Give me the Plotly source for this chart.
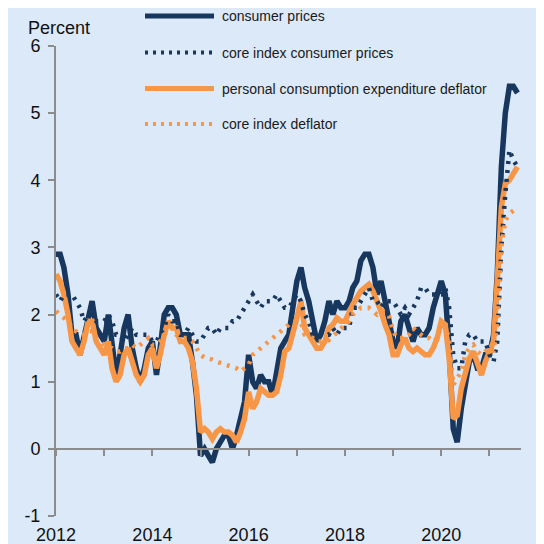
import plotly.graph_objects as go
import pandas as pd

# monthly, Jan 2012 - Aug 2021, percent change on a year earlier
months = pd.date_range("2012-01-01", "2021-08-01", freq="MS")

cpi = [
    2.9, 2.9, 2.7, 2.3, 1.7, 1.7, 1.4, 1.7, 2.0, 2.2, 1.8, 1.7,
    1.6, 2.0, 1.5, 1.1, 1.4, 1.8, 2.0, 1.5, 1.2, 1.0, 1.2, 1.5,
    1.6, 1.1, 1.5, 2.0, 2.1, 2.1, 2.0, 1.7, 1.7, 1.7, 1.3, 0.8,
    -0.1, 0.0, -0.1, -0.2, 0.0, 0.1, 0.2, 0.2, 0.0, 0.2, 0.5, 0.7,
    1.4, 1.0, 0.9, 1.1, 1.0, 1.0, 0.8, 1.1, 1.5, 1.6, 1.7, 2.1,
    2.5, 2.7, 2.4, 2.2, 1.9, 1.6, 1.7, 1.9, 2.2, 2.0, 2.2, 2.1,
    2.1, 2.2, 2.4, 2.5, 2.8, 2.9, 2.9, 2.7, 2.3, 2.5, 2.2, 1.9,
    1.6, 1.5, 1.9, 2.0, 1.8, 1.6, 1.8, 1.7, 1.7, 1.8, 2.1, 2.3,
    2.5, 2.3, 1.5, 0.3, 0.1, 0.6, 1.0, 1.3, 1.4, 1.2, 1.2, 1.4,
    1.4, 1.7, 2.6, 4.2, 5.0, 5.4, 5.4, 5.3,
]

core_cpi = [
    2.3, 2.2, 2.3, 2.3, 2.3, 2.2, 2.1, 1.9, 2.0, 2.0, 1.9, 1.9,
    1.9, 2.0, 1.9, 1.7, 1.7, 1.6, 1.7, 1.8, 1.7, 1.7, 1.7, 1.7,
    1.6, 1.6, 1.7, 1.8, 2.0, 1.9, 1.9, 1.7, 1.7, 1.8, 1.7, 1.6,
    1.6, 1.7, 1.8, 1.8, 1.7, 1.8, 1.8, 1.8, 1.9, 1.9, 2.0, 2.1,
    2.2, 2.3, 2.2, 2.1, 2.2, 2.2, 2.2, 2.3, 2.2, 2.1, 2.1, 2.2,
    2.3, 2.2, 2.0, 1.9, 1.7, 1.7, 1.7, 1.7, 1.7, 1.8, 1.7, 1.8,
    1.8, 1.8, 2.1, 2.1, 2.2, 2.3, 2.4, 2.2, 2.2, 2.1, 2.2, 2.2,
    2.2, 2.1, 2.0, 2.1, 2.0, 2.1, 2.2, 2.4, 2.4, 2.3, 2.3, 2.3,
    2.3, 2.4, 2.1, 1.4, 1.2, 1.2, 1.6, 1.7, 1.7, 1.6, 1.6, 1.6,
    1.4, 1.3, 1.6, 3.0, 3.8, 4.45, 4.3, 4.2,
]

pce = [
    2.6, 2.5, 2.3, 2.0, 1.6, 1.5, 1.4, 1.6, 1.9, 1.9, 1.6, 1.5,
    1.4, 1.6, 1.2, 1.0, 1.1, 1.4, 1.5, 1.3, 1.1, 1.0, 1.1, 1.4,
    1.5, 1.2, 1.4, 1.7, 1.9, 1.8, 1.8, 1.6, 1.6, 1.5, 1.3, 0.9,
    0.25, 0.3, 0.25, 0.15, 0.25, 0.3, 0.25, 0.25, 0.2, 0.1, 0.25, 0.45,
    0.85, 0.6, 0.7, 0.9, 0.85, 0.8, 0.8, 0.85, 1.1, 1.45, 1.5, 1.7,
    1.95, 2.2, 1.8, 1.7, 1.6, 1.5, 1.5, 1.6, 1.8, 1.85, 1.95, 1.9,
    1.9, 2.05, 2.15, 2.25, 2.35, 2.4, 2.45, 2.35, 2.2, 2.05, 1.85, 1.7,
    1.4, 1.4, 1.55, 1.65, 1.5, 1.45, 1.5, 1.45, 1.4, 1.4, 1.5, 1.65,
    1.9, 1.85, 1.35, 0.45, 0.5, 0.9, 1.1, 1.35, 1.45, 1.25, 1.1, 1.3,
    1.45, 1.6, 2.5, 3.6, 3.95, 4.0, 4.1, 4.2,
]

core_pce = [
    2.05, 2.0, 1.95, 1.9, 1.8, 1.75, 1.7, 1.7, 1.75, 1.75, 1.65, 1.6,
    1.55, 1.5, 1.5, 1.45, 1.45, 1.5, 1.5, 1.55, 1.5, 1.55, 1.6, 1.65,
    1.55, 1.55, 1.6, 1.7, 1.75, 1.8, 1.7, 1.65, 1.65, 1.65, 1.6, 1.5,
    1.4, 1.36, 1.35, 1.33, 1.3, 1.28, 1.27, 1.25, 1.23, 1.2, 1.15, 1.2,
    1.25, 1.4, 1.45, 1.5, 1.55, 1.6, 1.65, 1.7, 1.75, 1.8, 1.85, 1.9,
    1.9, 1.88, 1.7, 1.68, 1.65, 1.6, 1.6, 1.6, 1.62, 1.68, 1.72, 1.8,
    1.85, 1.9, 2.0, 2.05, 2.1, 2.1, 2.1, 2.05, 2.0, 2.05, 2.05, 1.98,
    1.75, 1.65, 1.65, 1.65, 1.7, 1.8, 1.75, 1.7, 1.65, 1.65, 1.6, 1.65,
    1.85, 1.8, 1.65, 0.95, 1.05, 1.15, 1.4, 1.5, 1.55, 1.45, 1.4, 1.45,
    1.5, 1.45, 1.9, 3.0, 3.4, 3.5, 3.55, 3.6,
]

years = list(range(2012, 2022))
year_labels = [str(y) if y % 2 == 0 else "" for y in years]
y_ticks = list(range(-1, 7))
y_labels = [str(v) for v in y_ticks]  # plain hyphen for -1, as in the original

NAVY = "#17375E"
ORANGE = "#F79646"
BG = "#DCE9F8"
GREY = "#8C8C8C"
FONT = "Liberation Sans, Arial, sans-serif"

# the page body has an 8px margin, so the figure is 536 wide/high
OFF = 8
W = H = 544 - OFF
# plot area in page pixels
L, R, T, B = 56, 521, 46, 516


def px(xp):
    return (xp - L) / (R - L)


def py(yp):
    return (B - yp) / (B - T)


DOT = "3px,6px"

fig = go.Figure()
fig.add_trace(go.Scatter(x=months, y=cpi, mode="lines",
                         line=dict(color=NAVY, width=5.5)))
fig.add_trace(go.Scatter(x=months, y=pce, mode="lines",
                         line=dict(color=ORANGE, width=5.5)))
fig.add_trace(go.Scatter(x=months, y=core_cpi, mode="lines",
                         line=dict(color=NAVY, width=4.5, dash=DOT)))
fig.add_trace(go.Scatter(x=months, y=core_pce, mode="lines",
                         line=dict(color=ORANGE, width=4.5, dash=DOT)))

# hand-made legend, lines are long in the original
legend = [
    ("consumer prices", NAVY, "solid", 16),
    ("core index consumer prices", NAVY, "3px,5px", 52.5),
    ("personal consumption expenditure deflator", ORANGE, "solid", 88.5),
    ("core index deflator", ORANGE, "3px,5px", 124),
]
shapes = []
annotations = []
for name, col, dash, yy in legend:
    shapes.append(dict(type="line", xref="paper", yref="paper",
                       x0=px(145), x1=px(214), y0=py(yy), y1=py(yy),
                       line=dict(color=col, width=5 if dash == "solid" else 4, dash=dash)))
    annotations.append(dict(text=name, xref="paper", yref="paper",
                            x=px(220), y=py(yy), xanchor="left", yanchor="middle",
                            showarrow=False, font=dict(size=14, color="#1a1a1a")))

annotations.append(dict(text="Percent", xref="paper", yref="paper",
                        x=px(26), y=py(28), xanchor="left", yanchor="middle",
                        showarrow=False, font=dict(size=18, color="#111")))

fig.update_layout(
    width=W, height=H,
    margin=dict(l=L - OFF, r=544 - R, t=T - OFF, b=544 - B),
    paper_bgcolor=BG, plot_bgcolor=BG,
    font=dict(family=FONT, size=18, color="#111"),
    showlegend=False,
    shapes=shapes,
    annotations=annotations,
    xaxis=dict(
        type="date",
        range=["2012-01-01", "2021-08-28"],
        tickvals=[f"{y}-01-01" for y in years],
        ticktext=year_labels,
        ticks="outside", ticklen=6, tickwidth=1.5, tickcolor=GREY,
        showline=True, linecolor=GREY, linewidth=2,
        showgrid=False, zeroline=False,
        anchor="free", position=1 / 7,
        ticklabelstandoff=64,
        automargin=False,
    ),
    yaxis=dict(
        range=[-1, 6],
        tickvals=y_ticks, ticktext=y_labels,
        ticks="outside", ticklen=6, tickwidth=1.5, tickcolor=GREY,
        showline=True, linecolor=GREY, linewidth=2,
        showgrid=False, zeroline=False,
        ticklabelstandoff=4,
        automargin=False,
    ),
)

fig.write_html("out.html")
